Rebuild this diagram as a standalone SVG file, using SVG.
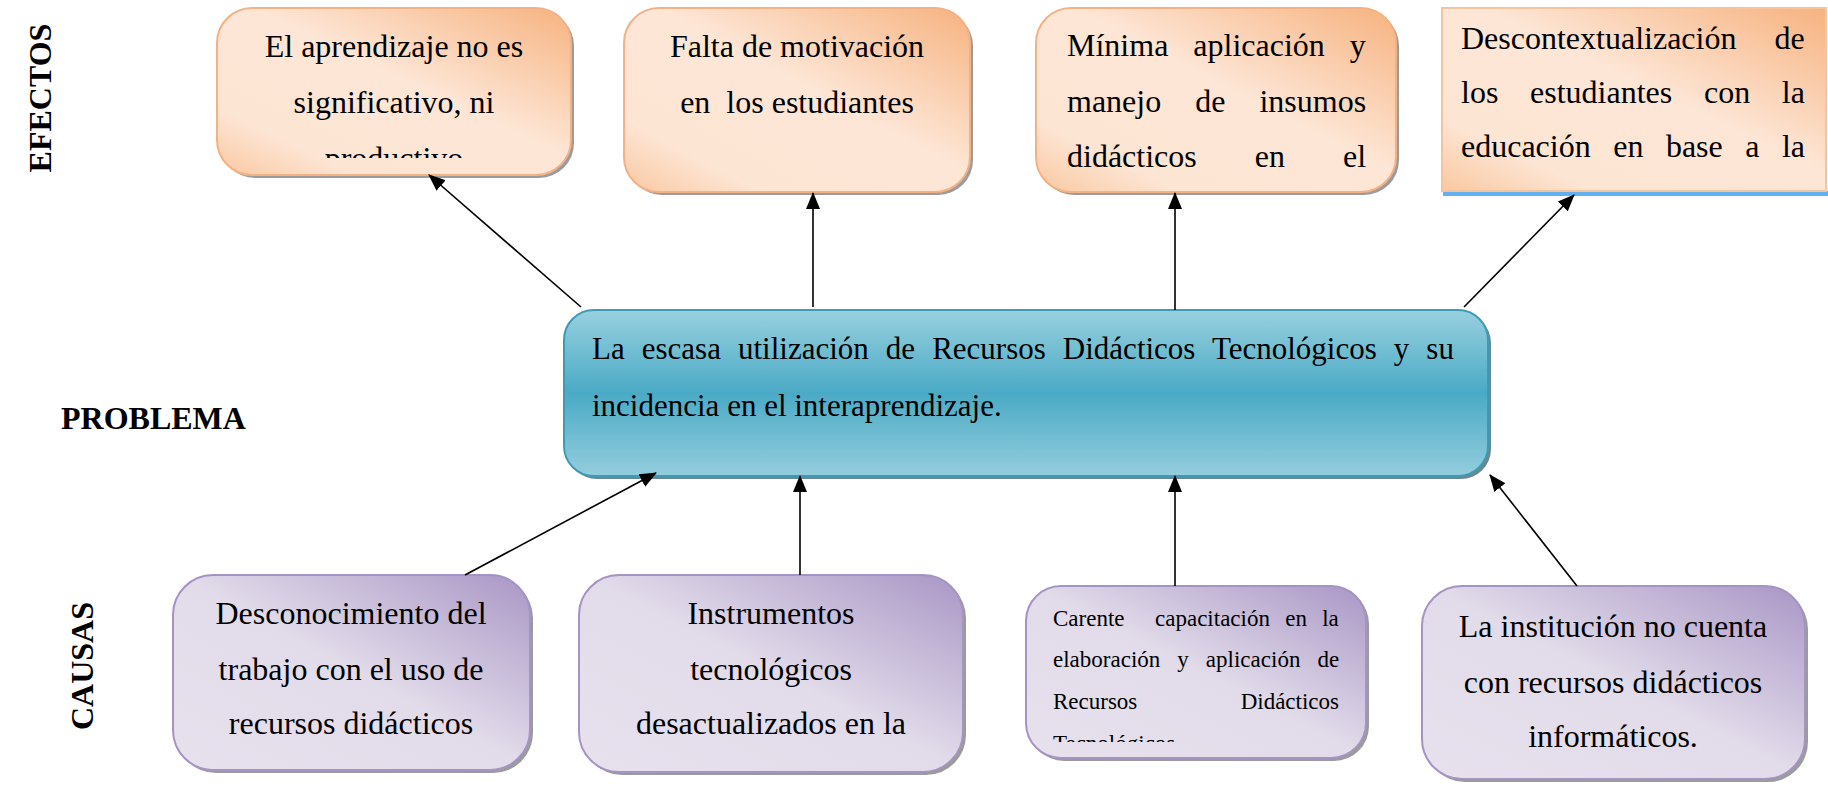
<svg xmlns="http://www.w3.org/2000/svg" width="1828" height="786" viewBox="0 0 1828 786">
<style>
  text { font-family: "Liberation Serif", "Times New Roman", serif; fill: #000; }
  .lbl { font-size: 32px; font-weight: bold; }
  .t { font-size: 32px; }
  .tc { font-size: 32px; text-anchor: middle; }
  .tp { font-size: 31px; }
  .ts { font-size: 23px; }
  .eff { fill: url(#gOrange); stroke: #f4b183; stroke-width: 2; }
  .cau { fill: url(#gPurple); stroke: #a593c2; stroke-width: 2; }
  .shd { fill: #9b9b9b; }
  .conn line { stroke: #000; stroke-width: 1.6; marker-end: url(#ah); }
</style>
<defs>
  <linearGradient id="gOrange" x1="1" y1="0" x2="0" y2="1">
    <stop offset="0" stop-color="#f6b27f"/>
    <stop offset="0.45" stop-color="#fde6d6"/>
    <stop offset="0.8" stop-color="#fde5d4"/>
    <stop offset="1" stop-color="#f9c8a0"/>
  </linearGradient>
  <linearGradient id="gPurple" x1="1" y1="0" x2="0" y2="1">
    <stop offset="0" stop-color="#a996c5"/>
    <stop offset="0.5" stop-color="#e2dcea"/>
    <stop offset="1" stop-color="#e7e1ee"/>
  </linearGradient>
  <linearGradient id="gBlue" x1="0" y1="0" x2="0" y2="1">
    <stop offset="0" stop-color="#98d0df"/>
    <stop offset="0.5" stop-color="#4aaac5"/>
    <stop offset="1" stop-color="#94cddd"/>
  </linearGradient>
  <marker id="ah" markerWidth="17" markerHeight="14" refX="16" refY="7" orient="auto" markerUnits="userSpaceOnUse">
    <path d="M0,0 L17,7 L0,14 z" fill="#000"/>
  </marker>
  <clipPath id="clipE1"><rect x="217" y="8" width="354" height="150"/></clipPath>
  <clipPath id="clipC3"><rect x="1026" y="586" width="340" height="156"/></clipPath>
</defs>

<g id="labels">
  <text class="lbl" text-anchor="middle" transform="translate(51,98) rotate(-90)">EFECTOS</text>
  <text class="lbl" x="61" y="429">PROBLEMA</text>
  <text class="lbl" text-anchor="middle" transform="translate(93,666) rotate(-90)">CAUSAS</text>
</g>

<g id="efecto1">
  <rect class="shd" x="220" y="11" width="354" height="167" rx="35"/>
  <rect class="eff" x="217" y="8" width="354" height="167" rx="35"/>
  <g clip-path="url(#clipE1)">
    <text class="tc" x="394" y="57">El aprendizaje no es</text>
    <text class="tc" x="394" y="113">significativo, ni</text>
    <text class="tc" x="394" y="169">productivo</text>
  </g>
</g>

<g id="efecto2">
  <rect class="shd" x="627" y="11" width="346" height="184" rx="35"/>
  <rect class="eff" x="624" y="8" width="346" height="184" rx="35"/>
  <text class="tc" x="797" y="57">Falta de motivación</text>
  <text class="tc" x="797" y="113" xml:space="preserve" style="white-space:pre">en  los estudiantes</text>
</g>

<g id="efecto3">
  <rect class="shd" x="1039" y="11" width="360" height="184" rx="35"/>
  <rect class="eff" x="1036" y="8" width="360" height="184" rx="35"/>
  <text class="t" x="1067" y="56" word-spacing="17">Mínima aplicación y</text>
  <text class="t" x="1067" y="112" word-spacing="26">manejo de insumos</text>
  <text class="t" x="1067" y="167" word-spacing="50">didácticos en el</text>
</g>

<g id="efecto4">
  <rect x="1443" y="191" width="385" height="5" fill="#62b0f2"/>
  <rect class="eff" x="1442" y="8" width="384" height="183" style="stroke:#f7c39c"/>
  <text class="t" x="1461" y="49" word-spacing="30">Descontextualización de</text>
  <text class="t" x="1461" y="103" word-spacing="23.7">los estudiantes con la</text>
  <text class="t" x="1461" y="157" word-spacing="14.5">educación en base a la</text>
</g>

<g id="problema">
  <rect x="567" y="313" width="924" height="166" rx="30" fill="#6b8790"/>
  <rect x="564" y="310" width="924" height="166" rx="30" fill="url(#gBlue)" stroke="#3d9bb6" stroke-width="2"/>
  <text class="tp" x="592" y="359" word-spacing="9.3">La escasa utilización de Recursos Didácticos Tecnológicos y su</text>
  <text class="tp" x="592" y="416">incidencia en el interaprendizaje.</text>
</g>

<g id="causa1">
  <rect class="shd" x="176" y="578" width="357" height="195" rx="40"/>
  <rect class="cau" x="173" y="575" width="357" height="195" rx="40"/>
  <text class="tc" x="351" y="624">Desconocimiento del</text>
  <text class="tc" x="351" y="680">trabajo con el uso de</text>
  <text class="tc" x="351" y="734">recursos didácticos</text>
</g>

<g id="causa2">
  <rect class="shd" x="582" y="578" width="384" height="197" rx="40"/>
  <rect class="cau" x="579" y="575" width="384" height="197" rx="40"/>
  <text class="tc" x="771" y="624">Instrumentos</text>
  <text class="tc" x="771" y="680">tecnológicos</text>
  <text class="tc" x="771" y="734">desactualizados en la</text>
</g>

<g id="causa3">
  <rect class="shd" x="1029" y="589" width="340" height="172" rx="35"/>
  <rect class="cau" x="1026" y="586" width="340" height="172" rx="35"/>
  <g clip-path="url(#clipC3)">
    <text class="ts" x="1053" y="626" xml:space="preserve" style="white-space:pre" word-spacing="9.5">Carente  capacitación en la</text>
    <text class="ts" x="1053" y="667" word-spacing="11.3">elaboración y aplicación de</text>
    <text class="ts" x="1053" y="709">Recursos</text>
    <text class="ts" x="1339" y="709" text-anchor="end">Didácticos</text>
    <text class="ts" x="1053" y="751">Tecnológicos</text>
  </g>
</g>

<g id="causa4">
  <rect class="shd" x="1425" y="589" width="383" height="193" rx="40"/>
  <rect class="cau" x="1422" y="586" width="383" height="193" rx="40"/>
  <text class="tc" x="1613" y="637">La institución no cuenta</text>
  <text class="tc" x="1613" y="693">con recursos didácticos</text>
  <text class="tc" x="1613" y="747">informáticos.</text>
</g>

<g id="connectors" class="conn">
  <line x1="581" y1="307" x2="429" y2="175"/>
  <line x1="813" y1="307" x2="813" y2="193"/>
  <line x1="1175" y1="310" x2="1175" y2="193"/>
  <line x1="1464" y1="307" x2="1574" y2="195"/>
  <line x1="465" y1="575" x2="656" y2="473"/>
  <line x1="800" y1="575" x2="800" y2="476"/>
  <line x1="1175" y1="586" x2="1175" y2="476"/>
  <line x1="1577" y1="586" x2="1490" y2="475"/>
</g>
</svg>
